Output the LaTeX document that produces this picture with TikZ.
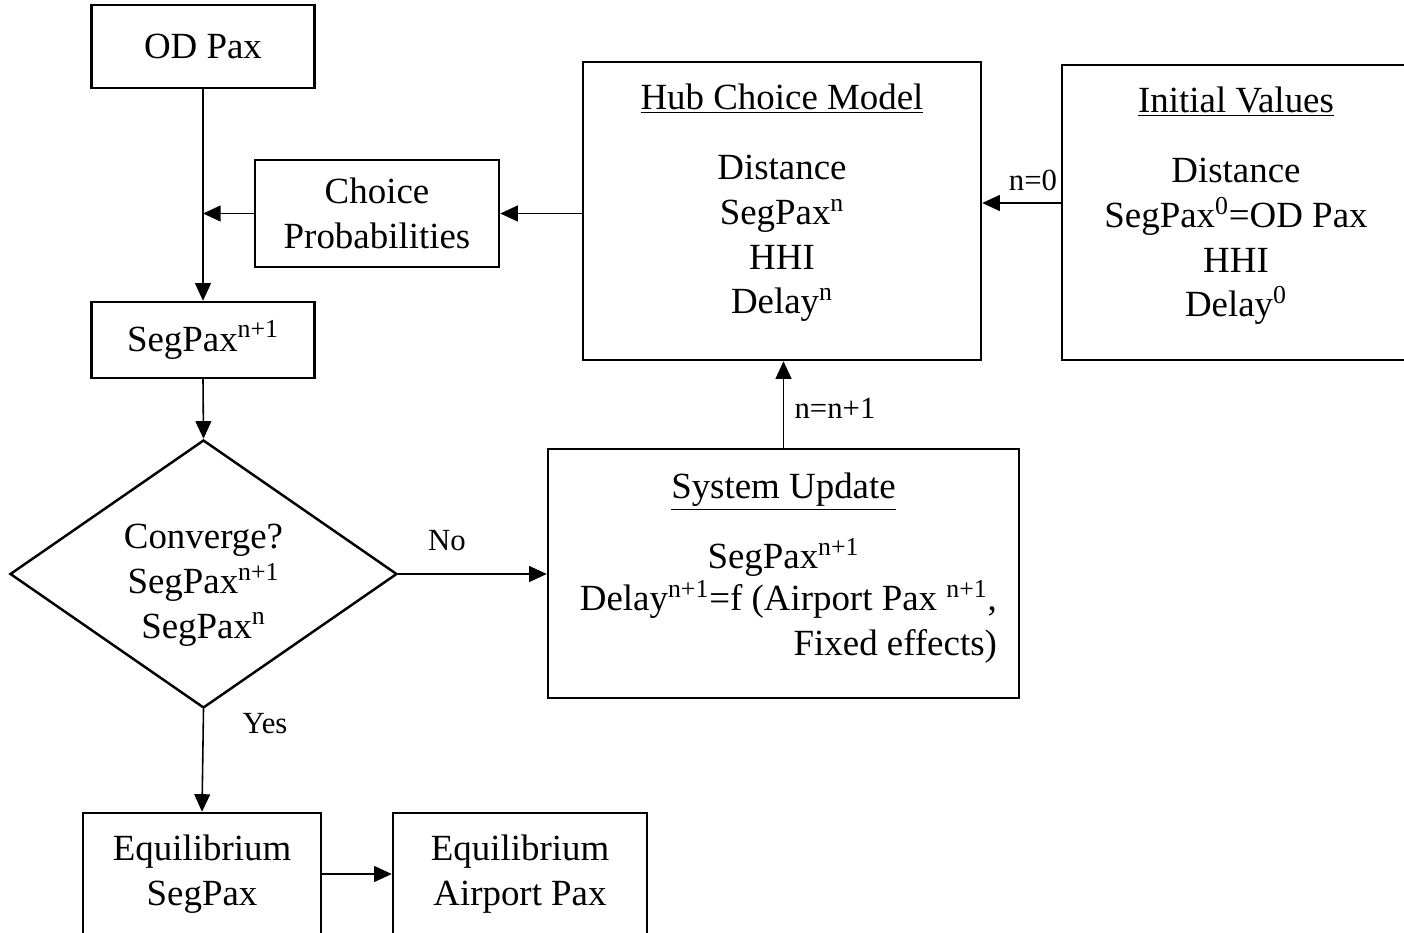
\documentclass[tikz,border=0pt]{standalone}
\usepackage{fontspec}
\setmainfont{Liberation Serif}
\usetikzlibrary{shapes.geometric, arrows.meta, positioning, calc}

\begin{document}
\begin{tikzpicture}[
    font=\fontsize{21}{25.5}\selectfont,
    >={Triangle[length=10pt, width=9pt]},
    box/.style={draw, line width=1.4pt, align=center, inner sep=4pt},
    decision/.style={draw, diamond, line width=1.4pt, align=center, inner sep=0pt, aspect=1.44},
    arrow/.style={->, line width=0.9pt},
    lbl/.style={font=\fontsize{17.5}{21}\selectfont, inner sep=1pt},
    body/.style={align=center, inner sep=0pt, anchor=north}
]

\useasboundingbox (0,0) rectangle (28.08,-18.66);
\clip (0,0) rectangle (28.08,-18.66);

% === LEFT COLUMN: main loop ===
\node[box, minimum width=4.46cm, minimum height=1.66cm] (odpax) at (4.06,-0.93) {OD Pax};
\node[box, minimum width=4.88cm, minimum height=2.14cm] (choice) at (7.54,-4.27) {Choice\\Probabilities};
\node[box, minimum width=4.46cm, minimum height=1.52cm] (segpax) at (4.06,-6.80) {SegPax\textsuperscript{n+1}};
\node[decision, minimum width=7.74cm, minimum height=5.36cm] (conv) at (4.07,-11.48) {};
\node[align=center, inner sep=0pt] (convtext) at ([yshift=-0.22cm]conv.center) {Converge?\\SegPax\textsuperscript{n+1}\\SegPax\textsuperscript{n}};

% === BOTTOM ROW: results ===
\node[box, minimum width=4.76cm, minimum height=2.44cm] (eqseg) at (4.04,-17.48) {Equilibrium\\SegPax};
\node[box, minimum width=5.08cm, minimum height=2.44cm] (eqair) at (10.40,-17.48) {Equilibrium\\Airport Pax};

% === RIGHT PART: model and update ===
\node[box, minimum width=7.96cm, minimum height=5.96cm] (hub) at (15.64,-4.22) {};
\node[body] (hubtext) at ([yshift=-0.46cm]hub.north) {\underline{Hub Choice Model}\\[0.5cm]Distance\\SegPax\textsuperscript{n}\\HHI\\Delay\textsuperscript{n}};

\node[box, minimum width=6.96cm, minimum height=5.9cm] (init) at (24.72,-4.25) {};
\node[body] (inittext) at ([yshift=-0.46cm]init.north) {\underline{Initial Values}\\[0.5cm]Distance\\SegPax\textsuperscript{0}=OD Pax\\HHI\\Delay\textsuperscript{0}};

\node[box, minimum width=9.42cm, minimum height=4.98cm] (sysupd) at (15.67,-11.47) {};
\node[body] (sysupdtext) at ([yshift=-0.5cm]sysupd.north) {\underline{System Update}\\[0.5cm]SegPax\textsuperscript{n+1}};
\node[body, anchor=north east, align=right] (delaytext) at ([xshift=-0.46cm, yshift=-2.65cm]sysupd.north east) {Delay\textsuperscript{n+1}=f (Airport Pax \textsuperscript{n+1},\\Fixed effects)};

% === ARROWS ===
\coordinate (join) at (odpax.south |- choice.west);
\draw[arrow] (odpax.south) -- (segpax.north);
\draw[arrow] (choice.west) -- (join);
\draw[arrow] (hub.west |- choice.east) -- (choice.east);
\draw[arrow] ([yshift=0.19cm]init.west) -- ([yshift=0.19cm]init.west -| hub.east);
\draw[arrow] (sysupd.north) -- (sysupd.north |- hub.south);
\draw[arrow] (segpax.south) -- (conv.north);
\draw[arrow] (conv.east) -- (sysupd.west |- conv.east);
\draw[arrow] (conv.south) -- (eqseg.north);
\draw[arrow] (eqseg.east) -- (eqair.west);

% === LABELS ===
\node[lbl] (lblzero) at (20.66,-3.60) {n=0};
\node[lbl] (lblnext) at (16.70,-8.16) {n=n+1};
\node[lbl] (lblno) at (8.94,-10.82) {No};
\node[lbl] (lblyes) at (5.30,-14.48) {Yes};

\end{tikzpicture}
\end{document}
